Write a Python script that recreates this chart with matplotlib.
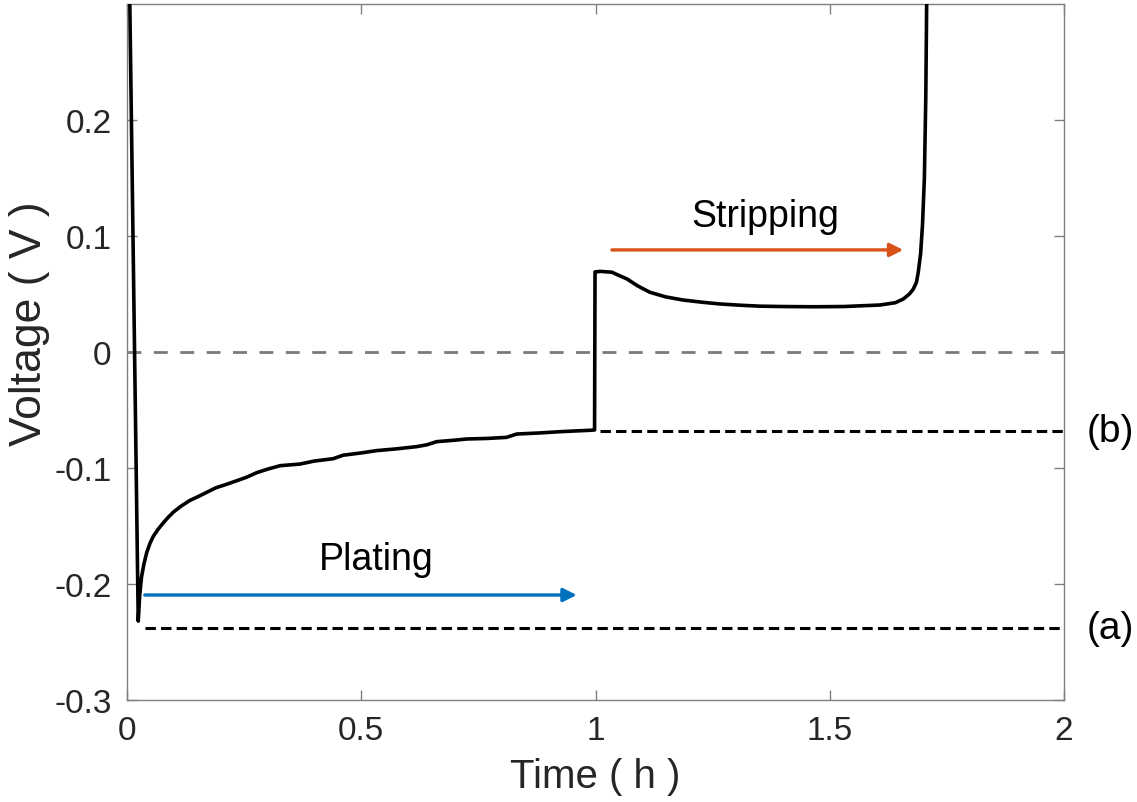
"""
Galvanostatic plating / stripping voltage profile.
"""

import matplotlib
matplotlib.use("Agg")
import matplotlib.pyplot as plt

# ── DATA ────────────────────────────────────────────────────────────
time_h = [0.005, 0.024, 0.027, 0.031, 0.036, 0.042, 0.049, 0.056, 0.066, 0.078,
          0.088, 0.099, 0.115, 0.134, 0.150, 0.170, 0.190, 0.213, 0.234, 0.255, 0.277,
          0.300, 0.327, 0.369, 0.400, 0.440, 0.461, 0.500, 0.533, 0.575, 0.618,
          0.640, 0.661, 0.700, 0.725, 0.770, 0.810, 0.832, 0.880, 0.924, 0.960,
          0.988, 0.998,
          0.999, 1.010, 1.035, 1.050, 1.067, 1.090, 1.116, 1.150, 1.187, 1.230,
          1.266, 1.310, 1.351, 1.400, 1.465, 1.530, 1.607, 1.640, 1.657, 1.670,
          1.678, 1.685, 1.689, 1.694, 1.698, 1.702, 1.705, 1.708]
voltage_v = [0.33, -0.232, -0.210, -0.194, -0.183, -0.173, -0.165, -0.159, -0.153, -0.147,
             -0.1425, -0.138, -0.133, -0.128, -0.125, -0.121, -0.117, -0.114, -0.111, -0.108, -0.104,
             -0.101, -0.098, -0.0966, -0.094, -0.092, -0.089, -0.087, -0.085, -0.0835, -0.0816,
             -0.080, -0.0773, -0.076, -0.075, -0.0745, -0.0736, -0.0707, -0.0698, -0.0687, -0.068,
             -0.0675, -0.0672,
             0.069, 0.0695, 0.0688, 0.066, 0.063, 0.057, 0.0515, 0.0475, 0.0448, 0.0428,
             0.0414, 0.0403, 0.0395, 0.0392, 0.0390, 0.0392, 0.0405, 0.0425, 0.0457, 0.050,
             0.054, 0.060, 0.069, 0.085, 0.11, 0.15, 0.22, 0.35]

level_a = -0.238          # plating overpotential reference
level_a_start = 0.038
level_b = -0.068          # end-of-plating reference
level_b_start = 1.01

plate_arrow = (0.038, 0.96, -0.2095)    # x0, x1, y
strip_arrow = (1.035, 1.657, 0.088)
plate_label = (0.533, -0.187)
strip_label = (1.362, 0.109)

x_ticks = [0, 0.5, 1, 1.5, 2]
x_tick_labels = ["0", "0.5", "1", "1.5", "2"]
y_ticks = [-0.3, -0.2, -0.1, 0, 0.1, 0.2]
y_tick_labels = ["-0.3", "-0.2", "-0.1", "0", "0.1", "0.2"]
# ────────────────────────────────────────────────────────────────────

plt.rcParams["font.family"] = ["Liberation Sans", "DejaVu Sans"]

AX_GRAY = "#808080"
TXT = "#262626"
BLUE = "#0072BD"
ORANGE = "#D95319"

fig = plt.figure(figsize=(11.37, 8.03), dpi=100)
ax = fig.add_axes([127 / 1137, 1 - 701 / 803, 937 / 1137, 696 / 803])

ax.axhline(0, color="#7a7a7a", lw=2.0, dashes=(5, 4.5), zorder=1)
ax.plot([level_a_start, 2], [level_a, level_a], color="black", lw=2.2, dashes=(3.4, 1.7), zorder=2)
ax.plot([level_b_start, 2], [level_b, level_b], color="black", lw=2.2, dashes=(3.4, 1.7), zorder=2)

ax.plot(time_h, voltage_v, color="black", lw=2.6, zorder=3)

for (x0, x1, y), c in [(plate_arrow, BLUE), (strip_arrow, ORANGE)]:
    ax.annotate("", xy=(x1, y), xytext=(x0, y),
                arrowprops=dict(arrowstyle="-|>", color=c, lw=2.4,
                                mutation_scale=20, shrinkA=0, shrinkB=0))

ax.text(*plate_label, "Plating", fontsize=27, ha="center", va="baseline", color="black")
ax.text(*strip_label, "Stripping", fontsize=27, ha="center", va="baseline", color="black")
ax.text(2.049, level_b, "(b)", fontsize=28, ha="left", va="center", clip_on=False)
ax.text(2.049, level_a, "(a)", fontsize=28, ha="left", va="center", clip_on=False)

ax.set_xlim(0, 2)
ax.set_ylim(-0.3, 0.3)
ax.set_xticks(x_ticks, x_tick_labels)
ax.set_yticks(y_ticks, y_tick_labels)
ax.tick_params(direction="in", length=7, width=1, colors=AX_GRAY, labelcolor=TXT,
               labelsize=24, top=True, right=True, pad=11)
for s in ax.spines.values():
    s.set_color(AX_GRAY)
    s.set_linewidth(1.0)

ax.set_xlabel("Time ( h )", fontsize=29, color=TXT, va="baseline")
ax.xaxis.set_label_coords(0.5, -0.125)
ax.set_ylabel("Voltage ( V )", fontsize=32, color=TXT, va="center")
ax.yaxis.set_label_coords(-0.104, 0.542)

fig.savefig("out.png", dpi=100)
